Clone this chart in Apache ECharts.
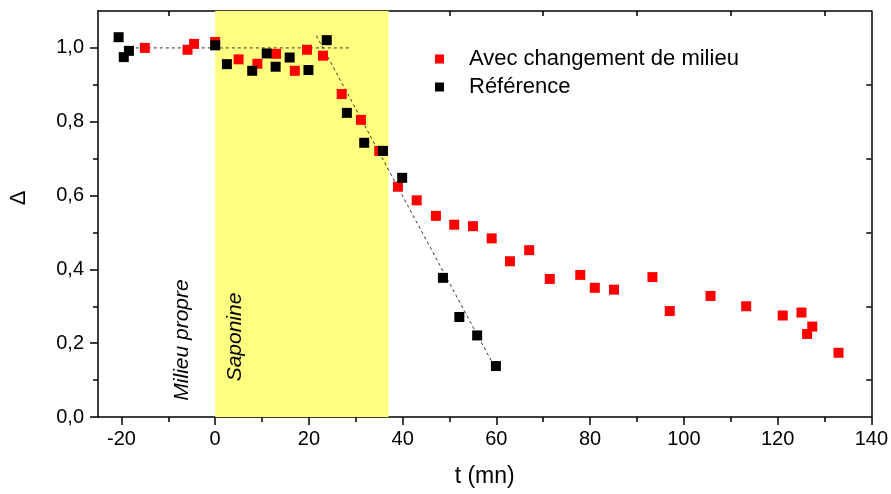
<!DOCTYPE html>
<html>
<head>
<meta charset="utf-8">
<script src="https://cdn.jsdelivr.net/npm/echarts@6/dist/echarts.min.js"></script>
<style>html,body{margin:0;padding:0;background:#fff;}#c{width:891px;height:494px;}</style>
</head>
<body>
<div id="c"></div>
<script>
// ---- data ----
const redName = 'Avec changement de milieu';
const blackName = 'Référence';
const tRed = [-15.0, -5.9, -4.5, 0.0, 5.0, 9.0, 13.0, 17.0, 19.6, 23.0, 27.0, 31.1, 35.0, 39.0, 43.0, 47.1, 51.0, 55.0, 59.0, 62.9, 67.0, 71.4, 77.9, 81.0, 85.1, 93.3, 97.0, 105.7, 113.3, 121.1, 125.1, 126.3, 127.4, 133.0];
const dRed = [1.000, 0.995, 1.011, 1.016, 0.969, 0.957, 0.984, 0.938, 0.995, 0.979, 0.875, 0.805, 0.721, 0.624, 0.587, 0.545, 0.521, 0.517, 0.484, 0.422, 0.452, 0.374, 0.385, 0.350, 0.345, 0.379, 0.287, 0.328, 0.300, 0.275, 0.283, 0.225, 0.245, 0.174];
const tBlack = [-20.6, -19.5, -18.4, 0.0, 2.5, 7.9, 11.0, 12.9, 15.9, 19.9, 23.8, 28.1, 31.8, 35.8, 39.9, 48.6, 52.1, 55.9, 59.9];
const dBlack = [1.029, 0.975, 0.992, 1.007, 0.956, 0.938, 0.985, 0.949, 0.974, 0.940, 1.021, 0.824, 0.743, 0.721, 0.648, 0.377, 0.271, 0.221, 0.138];
const fitFlat = [[-19.5, 1.0], [29.0, 1.0]];
const fitSlope = [[21.6, 1.033], [59.0, 0.150]];
const saponineRange = [0, 37];
const xMajor = [-20, 0, 20, 40, 60, 80, 100, 120, 140];
const xMinor = [-10, 10, 30, 50, 70, 90, 110, 130];
const yMajor = [0, 0.2, 0.4, 0.6, 0.8, 1.0];
const yMinor = [0.1, 0.3, 0.5, 0.7, 0.9];

const zip = (a, b) => a.map((v, i) => [v, b[i]]);
const FONT = '"Liberation Sans", Arial, sans-serif';
const fmtComma = v => v.toFixed(1).replace('.', ',');
const axisLine = { show: true, onZero: false, lineStyle: { color: '#000', width: 1.5 } };
const noLine = { show: false, onZero: false };

const chart = echarts.init(document.getElementById('c'));
chart.setOption({
  animation: false,
  backgroundColor: '#fff',
  grid: { left: 98, right: 18, top: 11, bottom: 77, containLabel: false },
  legend: {
    data: [redName, blackName],
    orient: 'vertical',
    left: 430, top: 43,
    icon: 'rect', itemWidth: 9, itemHeight: 9, itemGap: 6,
    textStyle: { fontFamily: FONT, fontSize: 22, color: '#000', padding: [0, 0, 0, 20], lineHeight: 22 }
  },
  xAxis: [
    { type: 'value', position: 'bottom', min: -25, max: 140,
      axisLine: axisLine, splitLine: { show: false },
      axisTick: { show: true, inside: false, length: 8, customValues: xMajor, lineStyle: { color: '#000', width: 1.5 } },
      axisLabel: { customValues: xMajor, margin: 12, fontFamily: FONT, fontSize: 20, color: '#000' },
      name: 't (mn)', nameLocation: 'middle', nameGap: 48,
      nameTextStyle: { fontFamily: FONT, fontSize: 23, color: '#000' } },
    { type: 'value', position: 'bottom', min: -25, max: 140,
      axisLine: noLine, splitLine: { show: false }, axisLabel: { show: false },
      axisTick: { show: true, inside: false, length: 5, customValues: xMinor, lineStyle: { color: '#000', width: 1.5 } } },
    { type: 'value', position: 'top', min: -25, max: 140,
      axisLine: axisLine, splitLine: { show: false }, axisLabel: { show: false },
      axisTick: { show: true, inside: true, length: 5, customValues: xMinor, lineStyle: { color: '#000', width: 1.5 } } }
  ],
  yAxis: [
    { type: 'value', position: 'left', min: 0, max: 1.1,
      axisLine: axisLine, splitLine: { show: false },
      axisTick: { show: true, inside: false, length: 8, customValues: yMajor, lineStyle: { color: '#000', width: 1.5 } },
      axisLabel: { customValues: yMajor, formatter: fmtComma, margin: 14, fontFamily: FONT, fontSize: 20, color: '#000' } },
    { type: 'value', position: 'left', offset: 0, min: 0, max: 1.1,
      axisLine: noLine, splitLine: { show: false }, axisLabel: { show: false },
      axisTick: { show: true, inside: false, length: 5, customValues: yMinor, lineStyle: { color: '#000', width: 1.5 } } },
    { type: 'value', position: 'right', offset: 0, min: 0, max: 1.1,
      axisLine: axisLine, splitLine: { show: false }, axisLabel: { show: false },
      axisTick: { show: true, inside: true, length: 5, customValues: yMinor, lineStyle: { color: '#000', width: 1.5 } } }
  ],
  series: [
    { type: 'line', name: 'fit1', data: fitFlat, showSymbol: false, symbol: 'none',
      lineStyle: { color: '#333', width: 1, type: [3, 3] }, z: 2,
      markArea: { silent: true, itemStyle: { color: '#ffff80', opacity: 1 },
        data: [[{ xAxis: saponineRange[0] }, { xAxis: saponineRange[1] }]] } },
    { type: 'line', name: 'fit2', data: fitSlope, showSymbol: false, symbol: 'none',
      lineStyle: { color: '#333', width: 1, type: [3, 3] }, z: 2 },
    { type: 'scatter', name: redName, data: zip(tRed, dRed), symbol: 'rect', symbolSize: 10,
      itemStyle: { color: '#ff0000', opacity: 1 }, z: 3 },
    { type: 'scatter', name: blackName, data: zip(tBlack, dBlack), symbol: 'rect', symbolSize: 10,
      itemStyle: { color: '#000000', opacity: 1 }, z: 4 }
  ],
  graphic: [
    { type: 'text', x: 19, y: 198, rotation: Math.PI / 2, z: 100,
      style: { text: 'Δ', fontFamily: FONT, fontSize: 22, fill: '#000', align: 'center', verticalAlign: 'middle' } },
    { type: 'text', x: 182, y: 340, rotation: Math.PI / 2, z: 100,
      style: { text: 'Milieu propre', fontFamily: FONT, fontSize: 21, fontStyle: 'italic', fill: '#000', align: 'center', verticalAlign: 'middle' } },
    { type: 'text', x: 235, y: 337, rotation: Math.PI / 2, z: 100,
      style: { text: 'Saponine', fontFamily: FONT, fontSize: 21, fontStyle: 'italic', fill: '#000', align: 'center', verticalAlign: 'middle' } }
  ]
});
</script>
</body>
</html>
